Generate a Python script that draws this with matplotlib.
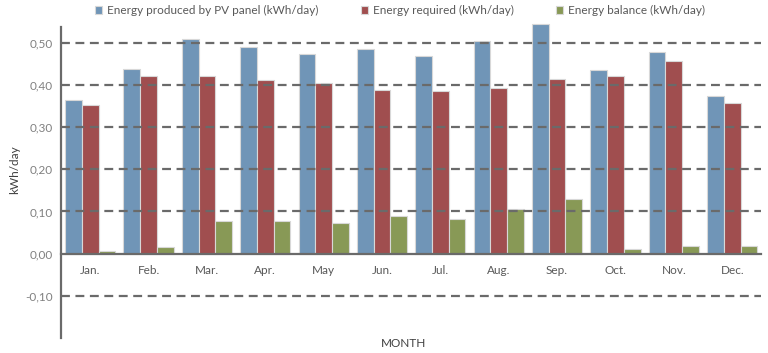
import numpy as np
import matplotlib
matplotlib.use("Agg")
import matplotlib.pyplot as plt
from matplotlib.ticker import FuncFormatter

plt.rcParams['font.family'] = ['Lato', 'DejaVu Sans']

months = ["Jan.", "Feb.", "Mar.", "Apr.", "May", "Jun.", "Jul.", "Aug.", "Sep.", "Oct.", "Nov.", "Dec."]
produced = [0.365, 0.438, 0.509, 0.489, 0.474, 0.486, 0.468, 0.505, 0.545, 0.435, 0.479, 0.374]
required = [0.353, 0.422, 0.422, 0.412, 0.405, 0.389, 0.385, 0.393, 0.415, 0.422, 0.458, 0.357]
balance = [0.007, 0.016, 0.078, 0.078, 0.073, 0.089, 0.081, 0.107, 0.130, 0.010, 0.019, 0.018]

labels = ["Energy produced by PV panel (kWh/day)", "Energy required (kWh/day)", "Energy balance (kWh/day)"]
colors = ["#7095B7", "#A04E4F", "#889956"]

fig = plt.figure(figsize=(7.68, 3.53), dpi=100)
ax = fig.add_axes([0.0794, 0.0425, 0.912, 0.896])

x = np.arange(len(months))
w = 0.286
for i, (vals, lab, col) in enumerate(zip([produced, required, balance], labels, colors)):
    ax.bar(x + (i - 1) * w, vals, w, color=col, edgecolor="#d8d8d8", linewidth=0.8, label=lab, zorder=1, clip_on=False)

ax.set_xlim(-0.5, 11.5)
ax.set_ylim(-0.2, 0.55)
ax.set_yticks([-0.1, 0.0, 0.1, 0.2, 0.3, 0.4, 0.5])
ax.yaxis.set_major_formatter(FuncFormatter(lambda v, p: f"{v:.2f}".replace(".", ",")))
for yv in [-0.1, 0.1, 0.2, 0.3, 0.4, 0.5]:
    ax.axhline(yv, color="#6a6a6a", linestyle=(0, (4, 2.5)), linewidth=1.6, zorder=2)

for s in ["top", "right"]:
    ax.spines[s].set_visible(False)
ax.spines["bottom"].set_position(("data", 0))
ax.spines["bottom"].set_color("#6a6a6a")
ax.spines["bottom"].set_linewidth(1.6)
ax.spines["bottom"].set_zorder(3)
ax.spines["left"].set_color("#6a6a6a")
ax.spines["left"].set_linewidth(1.6)
ax.spines["left"].set_bounds(-0.2, 0.538)

ax.set_xticks(x)
ax.set_xticklabels(months)
ax.tick_params(axis="x", length=0, pad=8, labelsize=8.5, colors="#595959")
ax.tick_params(axis="y", length=0, pad=6, labelsize=8.5, colors="#808080")

fig.text(0.019, 0.52, "kWh/day", rotation=90, ha="center", va="center", fontsize=8.5, color="#404040")
fig.text(0.525, 0.027, "MONTH", ha="center", va="center", fontsize=8.5, color="#404040")

fig.legend(loc="upper center", bbox_to_anchor=(0.521, 1.015), ncol=3, frameon=False, fontsize=8.5,
           handlelength=0.6, handleheight=0.6, handletextpad=0.4, columnspacing=3.6,
           labelcolor="#595959")

fig.savefig("out.png", dpi=100)
